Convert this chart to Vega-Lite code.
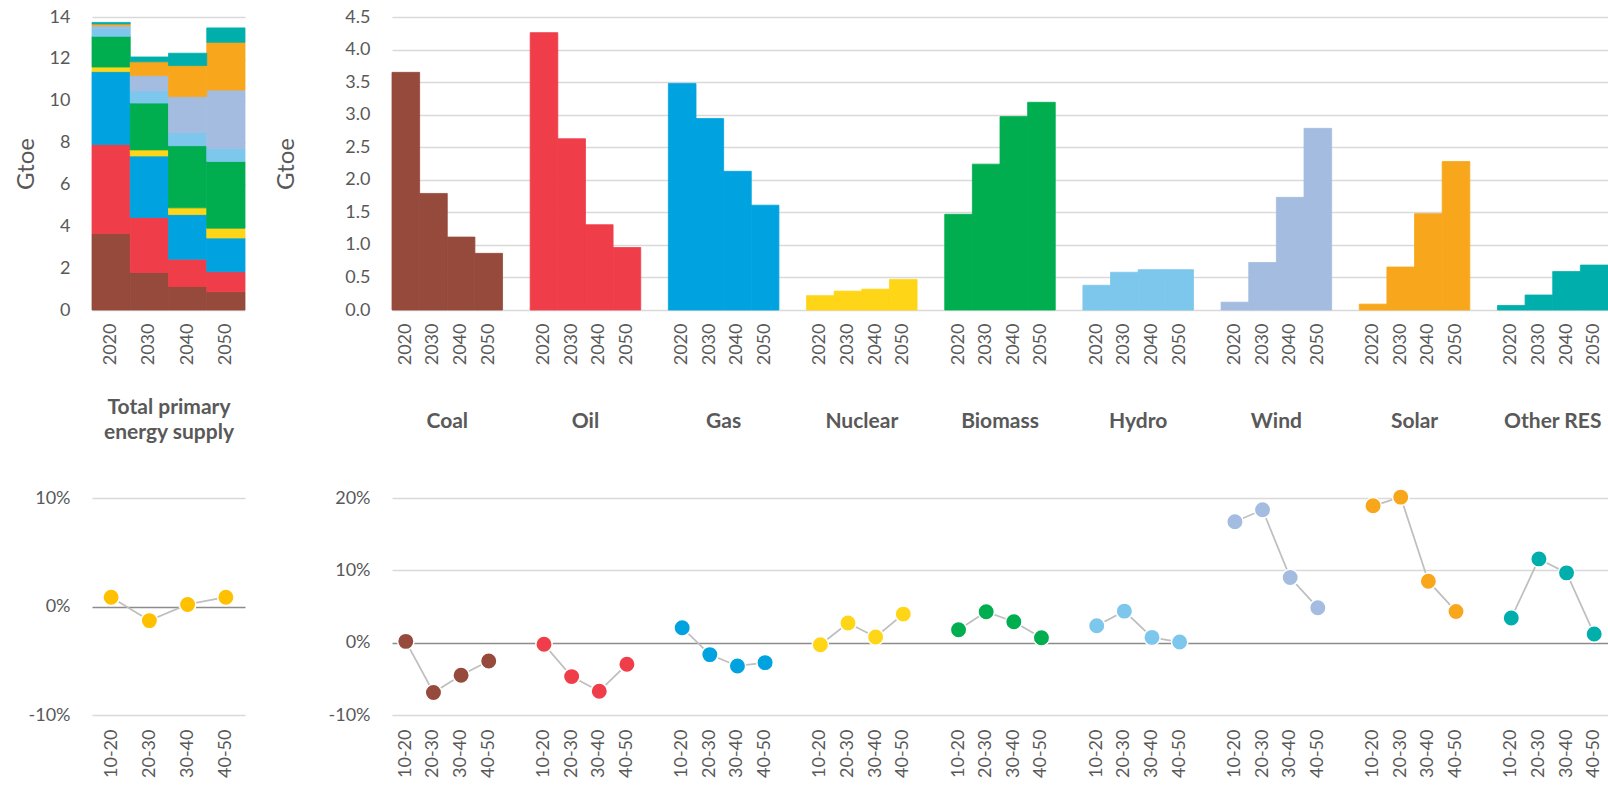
{
  "$schema": "https://vega.github.io/schema/vega-lite/v6.json",
  "padding": {"left": 14, "top": 8, "right": 0, "bottom": 0},
  "background": "white",
  "config": {
    "view": {"stroke": null},
    "font": "Lato",
    "axis": {
      "labelFont": "Lato", "labelColor": "#595959", "labelFontSize": 18,
      "titleFont": "Lato", "titleColor": "#595959",
      "ticks": false, "tickSize": 0, "domain": false,
      "gridColor": "#d9d9d9", "gridWidth": 1.5, "labelFlush": false
    }
  },
  "datasets": {
    "energy": [
      {"source": "Coal", "year": "2020", "bar": "Coal 2020", "gtoe": 3.65, "k": 1},
      {"source": "Coal", "year": "2030", "bar": "Coal 2030", "gtoe": 1.79, "k": 1},
      {"source": "Coal", "year": "2040", "bar": "Coal 2040", "gtoe": 1.12, "k": 1},
      {"source": "Coal", "year": "2050", "bar": "Coal 2050", "gtoe": 0.87, "k": 1},
      {"source": "Oil", "year": "2020", "bar": "Oil 2020", "gtoe": 4.26, "k": 2},
      {"source": "Oil", "year": "2030", "bar": "Oil 2030", "gtoe": 2.63, "k": 2},
      {"source": "Oil", "year": "2040", "bar": "Oil 2040", "gtoe": 1.31, "k": 2},
      {"source": "Oil", "year": "2050", "bar": "Oil 2050", "gtoe": 0.96, "k": 2},
      {"source": "Gas", "year": "2020", "bar": "Gas 2020", "gtoe": 3.48, "k": 3},
      {"source": "Gas", "year": "2030", "bar": "Gas 2030", "gtoe": 2.94, "k": 3},
      {"source": "Gas", "year": "2040", "bar": "Gas 2040", "gtoe": 2.13, "k": 3},
      {"source": "Gas", "year": "2050", "bar": "Gas 2050", "gtoe": 1.61, "k": 3},
      {"source": "Nuclear", "year": "2020", "bar": "Nuclear 2020", "gtoe": 0.22, "k": 4},
      {"source": "Nuclear", "year": "2030", "bar": "Nuclear 2030", "gtoe": 0.29, "k": 4},
      {"source": "Nuclear", "year": "2040", "bar": "Nuclear 2040", "gtoe": 0.32, "k": 4},
      {"source": "Nuclear", "year": "2050", "bar": "Nuclear 2050", "gtoe": 0.47, "k": 4},
      {"source": "Biomass", "year": "2020", "bar": "Biomass 2020", "gtoe": 1.47, "k": 5},
      {"source": "Biomass", "year": "2030", "bar": "Biomass 2030", "gtoe": 2.24, "k": 5},
      {"source": "Biomass", "year": "2040", "bar": "Biomass 2040", "gtoe": 2.97, "k": 5},
      {"source": "Biomass", "year": "2050", "bar": "Biomass 2050", "gtoe": 3.19, "k": 5},
      {"source": "Hydro", "year": "2020", "bar": "Hydro 2020", "gtoe": 0.38, "k": 6},
      {"source": "Hydro", "year": "2030", "bar": "Hydro 2030", "gtoe": 0.58, "k": 6},
      {"source": "Hydro", "year": "2040", "bar": "Hydro 2040", "gtoe": 0.62, "k": 6},
      {"source": "Hydro", "year": "2050", "bar": "Hydro 2050", "gtoe": 0.62, "k": 6},
      {"source": "Wind", "year": "2020", "bar": "Wind 2020", "gtoe": 0.12, "k": 7},
      {"source": "Wind", "year": "2030", "bar": "Wind 2030", "gtoe": 0.73, "k": 7},
      {"source": "Wind", "year": "2040", "bar": "Wind 2040", "gtoe": 1.73, "k": 7},
      {"source": "Wind", "year": "2050", "bar": "Wind 2050", "gtoe": 2.79, "k": 7},
      {"source": "Solar", "year": "2020", "bar": "Solar 2020", "gtoe": 0.09, "k": 8},
      {"source": "Solar", "year": "2030", "bar": "Solar 2030", "gtoe": 0.66, "k": 8},
      {"source": "Solar", "year": "2040", "bar": "Solar 2040", "gtoe": 1.48, "k": 8},
      {"source": "Solar", "year": "2050", "bar": "Solar 2050", "gtoe": 2.28, "k": 8},
      {"source": "Other RES", "year": "2020", "bar": "Other RES 2020", "gtoe": 0.07, "k": 9},
      {"source": "Other RES", "year": "2030", "bar": "Other RES 2030", "gtoe": 0.23, "k": 9},
      {"source": "Other RES", "year": "2040", "bar": "Other RES 2040", "gtoe": 0.59, "k": 9},
      {"source": "Other RES", "year": "2050", "bar": "Other RES 2050", "gtoe": 0.69, "k": 9}
    ],
    "total": [
      {"period": "10-20", "g": 0.0086},
      {"period": "20-30", "g": -0.0130},
      {"period": "30-40", "g": 0.0019},
      {"period": "40-50", "g": 0.0086}
    ],
    "growth": [
      {"source": "Coal", "key": "Coal 10-20", "g": 0.0018},
      {"source": "Coal", "key": "Coal 20-30", "g": -0.0689},
      {"source": "Coal", "key": "Coal 30-40", "g": -0.0450},
      {"source": "Coal", "key": "Coal 40-50", "g": -0.0253},
      {"source": "Oil", "key": "Oil 10-20", "g": -0.0023},
      {"source": "Oil", "key": "Oil 20-30", "g": -0.0469},
      {"source": "Oil", "key": "Oil 30-40", "g": -0.0671},
      {"source": "Oil", "key": "Oil 40-50", "g": -0.0299},
      {"source": "Gas", "key": "Gas 10-20", "g": 0.0207},
      {"source": "Gas", "key": "Gas 20-30", "g": -0.0165},
      {"source": "Gas", "key": "Gas 30-40", "g": -0.0322},
      {"source": "Gas", "key": "Gas 40-50", "g": -0.0276},
      {"source": "Nuclear", "key": "Nuclear 10-20", "g": -0.0028},
      {"source": "Nuclear", "key": "Nuclear 20-30", "g": 0.0271},
      {"source": "Nuclear", "key": "Nuclear 30-40", "g": 0.0078},
      {"source": "Nuclear", "key": "Nuclear 40-50", "g": 0.0395},
      {"source": "Biomass", "key": "Biomass 10-20", "g": 0.0179},
      {"source": "Biomass", "key": "Biomass 20-30", "g": 0.0427},
      {"source": "Biomass", "key": "Biomass 30-40", "g": 0.0289},
      {"source": "Biomass", "key": "Biomass 40-50", "g": 0.0069},
      {"source": "Hydro", "key": "Hydro 10-20", "g": 0.0234},
      {"source": "Hydro", "key": "Hydro 20-30", "g": 0.0436},
      {"source": "Hydro", "key": "Hydro 30-40", "g": 0.0073},
      {"source": "Hydro", "key": "Hydro 40-50", "g": 0.0009},
      {"source": "Wind", "key": "Wind 10-20", "g": 0.1672},
      {"source": "Wind", "key": "Wind 20-30", "g": 0.1837},
      {"source": "Wind", "key": "Wind 30-40", "g": 0.0900},
      {"source": "Wind", "key": "Wind 40-50", "g": 0.0482},
      {"source": "Solar", "key": "Solar 10-20", "g": 0.1892},
      {"source": "Solar", "key": "Solar 20-30", "g": 0.2012},
      {"source": "Solar", "key": "Solar 30-40", "g": 0.0850},
      {"source": "Solar", "key": "Solar 40-50", "g": 0.0432},
      {"source": "Other RES", "key": "Other RES 10-20", "g": 0.0340},
      {"source": "Other RES", "key": "Other RES 20-30", "g": 0.1158},
      {"source": "Other RES", "key": "Other RES 30-40", "g": 0.0965},
      {"source": "Other RES", "key": "Other RES 40-50", "g": 0.0119}
    ]
  },
  "columns": 2,
  "bounds": "flush",
  "spacing": {"column": 147, "row": 188},
  "concat": [
    {
      "width": 153, "height": 293,
      "data": {"name": "energy"},
      "mark": {"type": "bar", "strokeWidth": 0.8},
      "encoding": {
        "x": {"field": "year", "type": "ordinal",
          "scale": {"type": "band", "paddingInner": 0, "paddingOuter": 0},
          "axis": {"labelAngle": -90, "labelPadding": 13, "grid": false,
            "title": ["Total primary", "energy supply"], "titleFontWeight": "bold", "titleFontSize": 21,
            "titleLineHeight": 25, "titlePadding": 31, "minExtent": 55, "maxExtent": 55}},
        "y": {"field": "gtoe", "type": "quantitative", "stack": "zero",
          "scale": {"domain": [0, 14], "nice": false},
          "axis": {"values": [0, 2, 4, 6, 8, 10, 12, 14], "labelPadding": 22, "title": "Gtoe",
            "titleFontSize": 24, "titleFontWeight": "normal", "titlePadding": 4, "minExtent": 50, "maxExtent": 50}},
        "color": {"field": "source", "type": "nominal", "legend": null,
          "scale": {"domain": ["Coal", "Oil", "Gas", "Nuclear", "Biomass", "Hydro", "Wind", "Solar", "Other RES"],
            "range": ["#954A3C", "#EF3E4A", "#00A3E0", "#FFD517", "#00AE50", "#7DC7ED", "#A3BCE0", "#F8A71C", "#00AEAC"]}},
        "stroke": {"field": "source", "type": "nominal", "legend": null,
          "scale": {"domain": ["Coal", "Oil", "Gas", "Nuclear", "Biomass", "Hydro", "Wind", "Solar", "Other RES"],
            "range": ["#954A3C", "#EF3E4A", "#00A3E0", "#FFD517", "#00AE50", "#7DC7ED", "#A3BCE0", "#F8A71C", "#00AEAC"]}},
        "order": {"field": "k", "type": "quantitative", "sort": "ascending"}
      }
    },
    {
      "width": 1216, "height": 293,
      "data": {"name": "energy"},
      "layer": [
        {
          "mark": {"type": "bar", "strokeWidth": 0.8},
          "encoding": {
            "x": {"field": "bar", "type": "nominal",
              "scale": {"type": "band", "paddingInner": 0, "paddingOuter": 0,
                "domain": ["Coal 2020", "Coal 2030", "Coal 2040", "Coal 2050", " ",
                  "Oil 2020", "Oil 2030", "Oil 2040", "Oil 2050", "  ",
                  "Gas 2020", "Gas 2030", "Gas 2040", "Gas 2050", "   ",
                  "Nuclear 2020", "Nuclear 2030", "Nuclear 2040", "Nuclear 2050", "    ",
                  "Biomass 2020", "Biomass 2030", "Biomass 2040", "Biomass 2050", "     ",
                  "Hydro 2020", "Hydro 2030", "Hydro 2040", "Hydro 2050", "      ",
                  "Wind 2020", "Wind 2030", "Wind 2040", "Wind 2050", "       ",
                  "Solar 2020", "Solar 2030", "Solar 2040", "Solar 2050", "        ",
                  "Other RES 2020", "Other RES 2030", "Other RES 2040", "Other RES 2050"]},
              "axis": {"orient": "bottom", "labelAngle": -90, "labelPadding": 13, "title": null, "grid": false,
                "labelExpr": "substring(datum.value, length(datum.value) - 4)"}},
            "y": {"field": "gtoe", "type": "quantitative",
              "scale": {"domain": [0, 4.5], "nice": false},
              "axis": {"values": [0, 0.5, 1, 1.5, 2, 2.5, 3, 3.5, 4, 4.5], "format": ".1f", "labelPadding": 22,
                "title": "Gtoe", "titleFontSize": 24, "titleFontWeight": "normal", "titlePadding": 43,
                "minExtent": 51, "maxExtent": 51}},
            "color": {"field": "source", "type": "nominal", "legend": null,
              "scale": {"domain": ["Coal", "Oil", "Gas", "Nuclear", "Biomass", "Hydro", "Wind", "Solar", "Other RES"],
                "range": ["#954A3C", "#EF3E4A", "#00A3E0", "#FFD517", "#00AE50", "#7DC7ED", "#A3BCE0", "#F8A71C", "#00AEAC"]}},
            "stroke": {"field": "source", "type": "nominal", "legend": null,
              "scale": {"domain": ["Coal", "Oil", "Gas", "Nuclear", "Biomass", "Hydro", "Wind", "Solar", "Other RES"],
                "range": ["#954A3C", "#EF3E4A", "#00A3E0", "#FFD517", "#00AE50", "#7DC7ED", "#A3BCE0", "#F8A71C", "#00AEAC"]}}
          }
        },
        {
          "mark": {"type": "bar", "opacity": 0},
          "encoding": {
            "x": {"field": "source", "type": "nominal",
              "scale": {"type": "band", "paddingInner": 0.2, "paddingOuter": 0,
                "domain": ["Coal", "Oil", "Gas", "Nuclear", "Biomass", "Hydro", "Wind", "Solar", "Other RES"]},
              "axis": {"orient": "bottom", "labelAngle": 0, "labelPadding": 100, "labelFontWeight": "bold",
                "labelFontSize": 21, "title": null, "grid": false}}
          }
        }
      ],
      "resolve": {"scale": {"x": "independent"}, "axis": {"x": "independent"}}
    },
    {
      "width": 153, "height": 217,
      "data": {"name": "total"},
      "encoding": {
        "x": {"field": "period", "type": "ordinal",
          "scale": {"type": "point", "padding": 0.5},
          "axis": {"labelAngle": -90, "labelPadding": 14, "title": null, "grid": false}},
        "y": {"field": "g", "type": "quantitative",
          "scale": {"domain": [-0.1, 0.1], "nice": false},
          "axis": {"values": [-0.1, 0, 0.1], "format": ".0%", "labelPadding": 22, "title": null,
            "labelExpr": "replace(datum.label, '\u2212', '-')",
            "gridColor": {"condition": {"test": "datum.value === 0", "value": "#8c8c8c"}, "value": "#d9d9d9"}}}
      },
      "layer": [
        {"mark": {"type": "line", "color": "#bfbfbf", "strokeWidth": 1.75}},
        {"mark": {"type": "circle", "size": 270, "opacity": 1, "fill": "#FFC000", "stroke": "white", "strokeWidth": 1.5}}
      ]
    },
    {
      "width": 1216, "height": 217,
      "data": {"name": "growth"},
      "encoding": {
        "x": {"field": "key", "type": "nominal", "bandPosition": 0.5,
          "scale": {"type": "band", "paddingInner": 0, "paddingOuter": 0,
            "domain": ["Coal 10-20", "Coal 20-30", "Coal 30-40", "Coal 40-50", " ",
              "Oil 10-20", "Oil 20-30", "Oil 30-40", "Oil 40-50", "  ",
              "Gas 10-20", "Gas 20-30", "Gas 30-40", "Gas 40-50", "   ",
              "Nuclear 10-20", "Nuclear 20-30", "Nuclear 30-40", "Nuclear 40-50", "    ",
              "Biomass 10-20", "Biomass 20-30", "Biomass 30-40", "Biomass 40-50", "     ",
              "Hydro 10-20", "Hydro 20-30", "Hydro 30-40", "Hydro 40-50", "      ",
              "Wind 10-20", "Wind 20-30", "Wind 30-40", "Wind 40-50", "       ",
              "Solar 10-20", "Solar 20-30", "Solar 30-40", "Solar 40-50", "        ",
              "Other RES 10-20", "Other RES 20-30", "Other RES 30-40", "Other RES 40-50"]},
          "axis": {"labelAngle": -90, "labelPadding": 14, "title": null, "grid": false,
            "labelExpr": "substring(datum.value, length(datum.value) - 5)"}},
        "y": {"field": "g", "type": "quantitative",
          "scale": {"domain": [-0.1, 0.2], "nice": false},
          "axis": {"values": [-0.1, 0, 0.1, 0.2], "format": ".0%", "labelPadding": 22, "title": null,
            "labelExpr": "replace(datum.label, '\u2212', '-')",
            "gridColor": {"condition": {"test": "datum.value === 0", "value": "#8c8c8c"}, "value": "#d9d9d9"}}}
      },
      "layer": [
        {"mark": {"type": "line", "color": "#bfbfbf", "strokeWidth": 1.75},
         "encoding": {"detail": {"field": "source", "type": "nominal"}}},
        {"mark": {"type": "circle", "size": 270, "opacity": 1, "stroke": "white", "strokeWidth": 1.5},
         "encoding": {"color": {"field": "source", "type": "nominal", "legend": null,
           "scale": {"domain": ["Coal", "Oil", "Gas", "Nuclear", "Biomass", "Hydro", "Wind", "Solar", "Other RES"],
             "range": ["#954A3C", "#EF3E4A", "#00A3E0", "#FFD517", "#00AE50", "#7DC7ED", "#A3BCE0", "#F8A71C", "#00AEAC"]}}}}
      ]
    }
  ]
}
